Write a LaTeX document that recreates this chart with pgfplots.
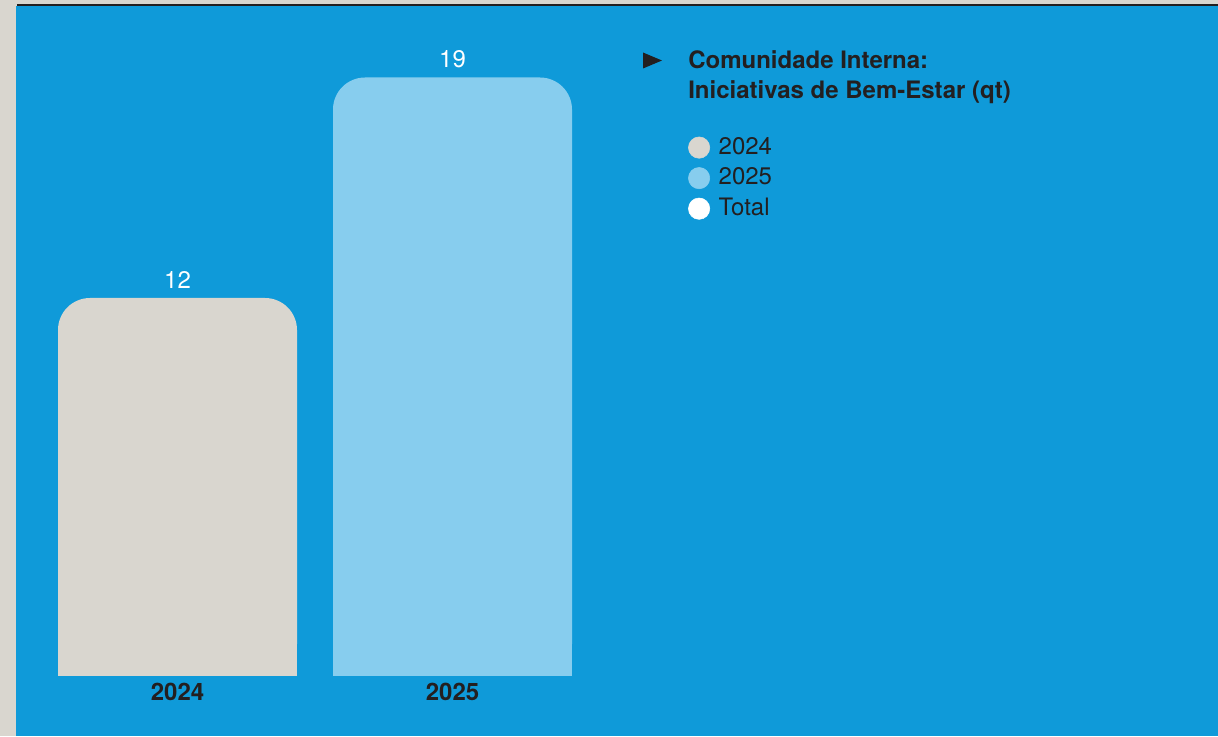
\documentclass[border=0pt]{standalone}
\usepackage{pgfplots}
\pgfplotsset{compat=1.18}
\usepackage{fontspec}
\setmainfont{TeX Gyre Heros}
\definecolor{bgblue}{HTML}{0F9AD9}
\definecolor{greyC}{HTML}{D9D6CF}
\definecolor{lightC}{HTML}{87CDEE}
\definecolor{darkC}{HTML}{231F20}
\newcommand{\chartfont}{\fontsize{18pt}{22.5pt}\selectfont}
\begin{document}
\begin{tikzpicture}[x=0.75pt,y=0.75pt]
\useasboundingbox (0,0) rectangle (1218,736);
\fill[greyC] (0,0) rectangle (1218,736);
\fill[bgblue] (16,0) rectangle (1218,729.5);
\fill[darkC] (17,729.5) rectangle (1218,732.3);
\begin{axis}[
  at={(30pt,45pt)}, anchor=south west,
  scale only axis, width=412.5pt, height=472.5pt,
  xmin=-0.5, xmax=1.5, ymin=0, ymax=20,
  axis line style={draw=none},
  ytick=\empty, xtick={0,1}, xticklabels={2024,2025},
  major tick length=0pt,
  /pgf/number format/assume math mode=true,
  xticklabel style={font=\chartfont\bfseries, text=darkC, inner sep=0pt, anchor=north, yshift=-5pt},
  clip=false,
  ybar, bar width=179.25pt, bar shift=0pt,
  every node near coord/.append style={font=\chartfont, text=white, anchor=south, inner sep=0pt, yshift=7pt},
  legend style={at={(1.178,0.8565)}, anchor=north west, draw=none, fill=none, font=\chartfont, text=darkC, inner sep=0pt, row sep=6.5pt,
    nodes={inner sep=1pt, text depth=2pt, text height=12pt},
    /tikz/every odd column/.append style={column sep=5.5pt}},
  legend cell align=left,
]
\addplot[ybar, fill=greyC, draw=none, rounded corners=24pt, nodes near coords, forget plot] coordinates {(0,12)};
\addplot[ybar, fill=lightC, draw=none, rounded corners=24pt, nodes near coords, forget plot] coordinates {(1,19)};
\addplot[ybar, fill=greyC, draw=none, forget plot] coordinates {(0,3.5)};
\addplot[ybar, fill=lightC, draw=none, forget plot] coordinates {(1,3.5)};
\addlegendimage{legend image code/.code={\fill[greyC] (0.3cm,0pt) circle (8pt);}}
\addlegendentry{2024}
\addlegendimage{legend image code/.code={\fill[lightC] (0.3cm,0pt) circle (8pt);}}
\addlegendentry{2025}
\addlegendimage{legend image code/.code={\fill[white] (0.3cm,0pt) circle (8pt);}}
\addlegendentry{Total}
\end{axis}
\fill[darkC] (643,667.5) -- (643,683.5) -- (662,675.5) -- cycle;
\node[anchor=north west, align=left, inner sep=0pt, font=\chartfont\bfseries, text=darkC] at (688,686) {Comunidade Interna:\\Iniciativas de Bem-Estar (qt)};
\end{tikzpicture}
\end{document}
